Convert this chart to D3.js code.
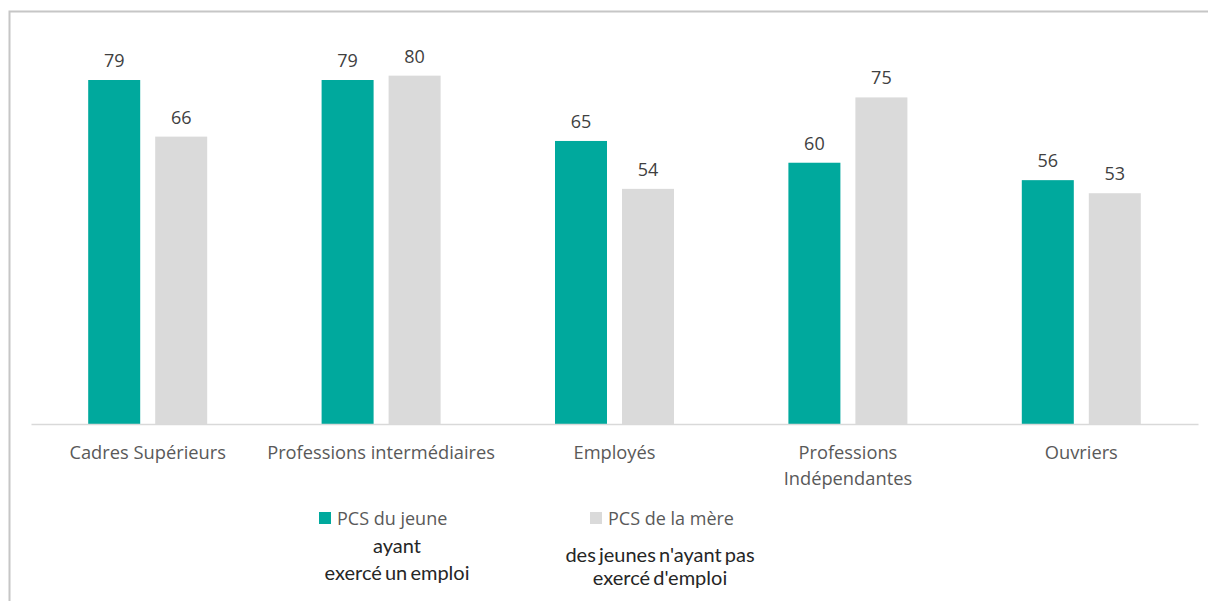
<!DOCTYPE html>
<html><head><meta charset="utf-8">
<script src="https://cdn.jsdelivr.net/npm/d3@7"></script>
<style>body{margin:0;background:#fff;}svg{display:block;}</style>
</head><body>
<script>
const categories = ["Cadres Supérieurs","Professions intermédiaires","Employés","Professions Indépendantes","Ouvriers"];
const categoryLines = [["Cadres Supérieurs"],["Professions intermédiaires"],["Employés"],["Professions","Indépendantes"],["Ouvriers"]];
const seriesNames = ["PCS du jeune","PCS de la mère"];
const jeune = [79,79,65,60,56];
const mere = [66,80,54,75,53];
const legendNotes = [["ayant","exercé un emploi"],["des jeunes n'ayant pas","exercé d'emploi"]];
const colors = ["#00A99D","#DADADA"];

const W=1208,H=601;
const svg=d3.select("body").append("svg").attr("width",W).attr("height",H);
svg.append("rect").attr("x",9.5).attr("y",11.5).attr("width",1220).attr("height",620)
  .attr("fill","none").attr("stroke","#c6c6c6").attr("stroke-width",2);

const x0=d3.scaleBand().domain(categories).range([31,1198]).paddingInner(0).paddingOuter(0);
const y=d3.scaleLinear().domain([0,79]).range([424,80]);
const barW=52, gap=15;
const xs=d3.scaleOrdinal().domain(seriesNames).range([-gap/2-barW, gap/2]);

const data=categories.map((c,i)=>({c,vals:[{s:seriesNames[0],v:jeune[i]},{s:seriesNames[1],v:mere[i]}]}));
const grp=svg.append("g").selectAll("g.cat").data(data).join("g").attr("transform",d=>`translate(${x0(d.c)+x0.bandwidth()/2},0)`);
grp.selectAll("rect").data(d=>d.vals).join("rect")
  .attr("x",d=>xs(d.s)).attr("width",barW)
  .attr("y",d=>y(d.v)).attr("height",d=>y(0)-y(d.v))
  .attr("fill",(d,i)=>colors[i]);
grp.selectAll("text.val").data(d=>d.vals).join("text").attr("class","val")
  .attr("x",d=>xs(d.s)+barW/2).attr("y",d=>y(d.v)-13)
  .attr("text-anchor","middle").attr("font-family","Open Sans").attr("font-size",18)
  .attr("fill","#404040").text(d=>d.v);

const xAxis=d3.axisBottom(x0).tickSize(0).tickFormat("");
const ax=svg.append("g").attr("transform","translate(0,424)").call(xAxis);
ax.select(".domain").attr("stroke","#d9d9d9").attr("stroke-width",1.5);
categories.forEach((c,i)=>{
  const t=svg.append("text").attr("text-anchor","middle").attr("font-family","Open Sans")
    .attr("font-size",18.3).attr("fill","#595959");
  categoryLines[i].forEach((l,j)=>{
    t.append("tspan").attr("x",x0(c)+x0.bandwidth()/2).attr("y",459+j*25.5).text(l);
  });
});

const legX=[319,590];
seriesNames.forEach((s,i)=>{
  svg.append("rect").attr("x",legX[i]).attr("y",512).attr("width",12).attr("height",12).attr("fill",colors[i]);
  svg.append("text").attr("x",legX[i]+18).attr("y",525).attr("font-family","Open Sans")
    .attr("font-size",18).attr("fill","#595959").text(s);
});
const noteX=[397,660];
const noteY=[[553,580],[562,585]];
legendNotes.forEach((lines,i)=>{
  lines.forEach((l,j)=>{
    svg.append("text").attr("x",noteX[i]).attr("y",noteY[i][j]).attr("text-anchor","middle")
      .attr("font-family","Lato").attr("font-size",20).attr("font-weight",400).attr("fill","#262626")
      .attr("word-spacing",-2).text(l);
  });
});
</script>
</body></html>
